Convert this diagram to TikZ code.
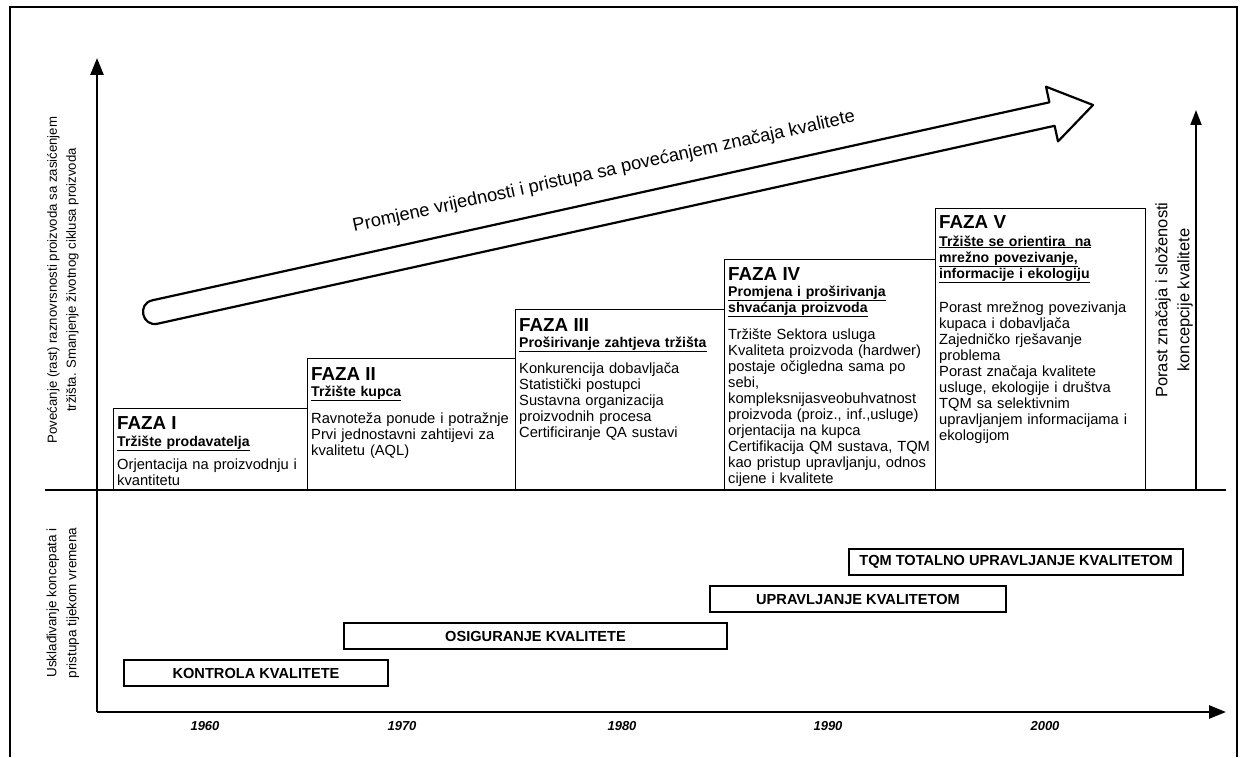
\documentclass[tikz,border=0pt]{standalone}
\usepackage{fontspec}
\setmainfont{Liberation Sans}
\usetikzlibrary{arrows.meta}
\begin{document}
\begin{tikzpicture}[x=1pt,y=-1pt,
  axis/.style={line width=2.6pt,-{Triangle[length=17pt,width=13pt]}},
  frameline/.style={line width=1.2pt},
  thinline/.style={line width=1.4pt},
  phasebox/.style={draw,line width=1.3pt,anchor=north west,inner sep=0pt},
  bar/.style={draw,line width=2.4pt,inner sep=0pt,minimum height=26pt,font=\bfseries\fontsize{14.6}{16}\selectfont},
  ttl/.style={anchor=base west,inner sep=0pt,font=\bfseries\fontsize{18.8}{20}\selectfont},
  subt/.style={anchor=base west,inner sep=0pt,align=left,font=\bfseries\fontsize{14.1}{16}\selectfont},
  bodyt/.style={anchor=base west,inner sep=0pt,align=left,font=\fontsize{14.7}{16}\selectfont},
  year/.style={font=\bfseries\itshape\fontsize{13}{14}\selectfont},
  sidelbl/.style={rotate=90,align=center,inner sep=0pt},
  bigarrow/.style={draw,line width=2.2pt,line join=round,fill=white}
]
\useasboundingbox (0,0) rectangle (1241,757);
% outer frame
\coordinate (fbl) at (10,757);
\coordinate (ftl) at (10,7);
\coordinate (ftr) at (1237,7);
\coordinate (fbr) at (1237,757);
\draw[frameline] (fbl) -- (ftl) -- (ftr) -- (fbr);
% axes
\coordinate (O) at (97,712);
\coordinate (ytop) at (97,58);
\coordinate (xend) at (1226,712);
\draw[axis] (O) -- (ytop);
\draw[axis] (O) -- (xend);
% divider
\coordinate (dl) at (45,490);
\coordinate (dr) at (1226,490);
\draw[thinline] (dl) -- (dr);
% right arrow
\coordinate (rb) at (1196,490);
\coordinate (rt) at (1196,110);
\draw[line width=2pt,-{Triangle[length=15pt,width=11pt]}] (rb) -- (rt);
% big hollow arrow
\draw[bigarrow] (152.4,300.3) -- (1049.4,102.3) -- (1046.0,86.7) -- (1093,105)
  -- (1058.0,141.4) -- (1054.6,125.8) -- (157.6,323.7)
  .. controls (142.0,327.1) and (136.8,303.7) .. (152.4,300.3) -- cycle;
\node[rotate=12.4,inner sep=0pt,font=\fontsize{18.3}{20}\selectfont] (arrtxt) at (604,172)
  {Promjene vrijednosti i pristupa sa povećanjem značaja kvalitete};
% phase boxes
\node[phasebox,minimum width=194pt,minimum height=82pt] (f1) at (113,408) {};
\node[phasebox,minimum width=208pt,minimum height=132pt] (f2) at (307,358) {};
\node[phasebox,minimum width=209pt,minimum height=181pt] (f3) at (515,309) {};
\node[phasebox,minimum width=211pt,minimum height=231pt] (f4) at (724,259) {};
\node[phasebox,minimum width=210pt,minimum height=282pt] (f5) at (935,208) {};
% FAZA I
\node[ttl] (t1) at (117,429) {FAZA I};
\node[subt,text width=187pt] (s1) at (117,446) {\underline{Tržište prodavatelja}};
\node[bodyt,text width=187pt] (b1) at (117,469) {Orjentacija na proizvodnju i\\kvantitetu};
% FAZA II
\node[ttl] (t2) at (311,380) {FAZA II};
\node[subt,text width=201pt] (s2) at (311,396) {\underline{Tržište kupca}};
\node[bodyt,text width=201pt] (b2) at (311,423) {Ravnoteža ponude i potražnje\\Prvi jednostavni zahtijevi za\\kvalitetu (AQL)};
% FAZA III
\node[ttl] (t3) at (519,331) {FAZA III};
\node[subt,text width=202pt] (s3) at (519,347) {\underline{Proširivanje zahtjeva tržišta}};
\node[bodyt,text width=202pt] (b3) at (519,373) {Konkurencija dobavljača\\Statistički postupci\\Sustavna organizacija\\proizvodnih procesa\\Certificiranje QA sustavi};
% FAZA IV
\node[ttl] (t4) at (728,280) {FAZA IV};
\node[subt,text width=204pt] (s4) at (728,296) {\underline{Promjena i proširivanja}\\\underline{shvaćanja proizvoda}};
\node[bodyt,text width=204pt] (b4) at (728,339) {Tržište Sektora usluga\\Kvaliteta proizvoda (hardwer)\\postaje očigledna sama po\\sebi,\\kompleksnijasveobuhvatnost\\proizvoda (proiz., inf.,usluge)\\orjentacija na kupca\\Certifikacija QM sustava, TQM\\kao pristup upravljanju, odnos\\cijene i kvalitete};
% FAZA V
\node[ttl] (t5) at (939,228) {FAZA V};
\node[subt,text width=203pt] (s5) at (939,246) {\underline{Tržište se orientira\ \ na}\\\underline{mrežno povezivanje,}\\\underline{informacije i ekologiju}};
\node[bodyt,text width=203pt] (b5) at (939,312) {Porast mrežnog povezivanja\\kupaca i dobavljača\\Zajedničko rješavanje\\problema\\Porast značaja kvalitete\\usluge, ekologije i društva\\TQM sa selektivnim\\upravljanjem informacijama i\\ekologijom};
% side labels
\node[sidelbl,font=\fontsize{13.2}{19}\selectfont] (ylbl) at (63,280)
  {Povećanje (rast) raznovrsnosti proizvoda sa zasićenjem\\tržišta. Smanjenje životnog ciklusa proizvoda};
\node[sidelbl,font=\fontsize{13.5}{20}\selectfont] (ylbl2) at (63,603)
  {Usklađivanje koncepata i\\pristupa tijekom vremena};
\node[sidelbl,font=\fontsize{16.5}{22}\selectfont] (rlbl) at (1174,300)
  {Porast značaja i složenosti\\koncepcije kvalitete};
% concept bars
\node[bar,minimum width=264pt] (kk) at (256,673) {KONTROLA KVALITETE};
\node[bar,minimum width=383pt] (ok) at (535.5,636) {OSIGURANJE KVALITETE};
\node[bar,minimum width=296pt] (uk) at (858,599) {UPRAVLJANJE KVALITETOM};
\node[bar,minimum width=334pt] (tqm) at (1016,562) {TQM TOTALNO UPRAVLJANJE KVALITETOM};
% years
\node[year] (y1960) at (205,726) {1960};
\node[year] (y1970) at (402,726) {1970};
\node[year] (y1980) at (622,726) {1980};
\node[year] (y1990) at (828,726) {1990};
\node[year] (y2000) at (1045,726) {2000};
\end{tikzpicture}
\end{document}
